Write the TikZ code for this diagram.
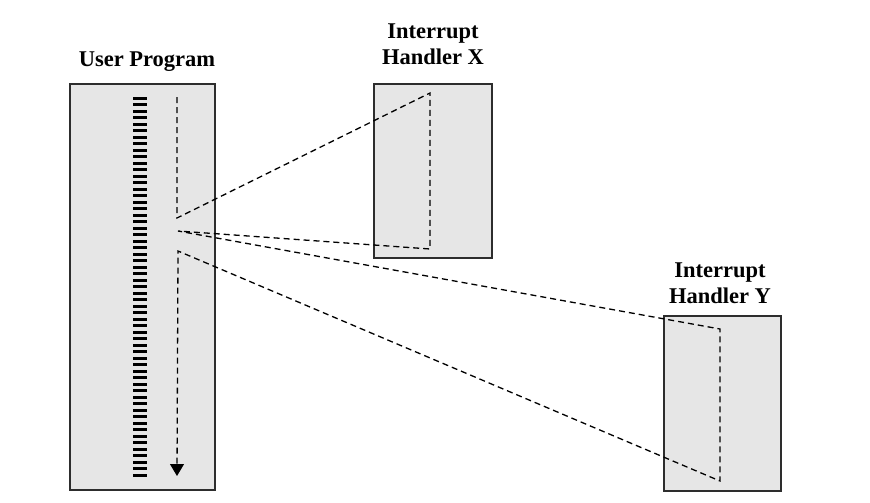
\documentclass[tikz,border=0pt]{standalone}
\usepackage{fontspec}
\setmainfont{Liberation Serif}
\usetikzlibrary{arrows.meta}
\definecolor{boxfill}{RGB}{230,230,230}
\definecolor{boxline}{RGB}{45,45,45}
\begin{document}
\begin{tikzpicture}[x=1pt,y=-1pt,
  box/.style={draw=boxline, line width=1.7pt, fill=boxfill, inner sep=0pt, anchor=north west},
  ttl/.style={font=\bfseries\fontsize{22.5}{26}\selectfont, align=center, inner sep=0pt},
  flow/.style={dashed, dash pattern=on 6pt off 4pt, line width=1.3pt, black},
  stripe/.style={fill=black, draw=none}]
\useasboundingbox (0,0) rectangle (870,503);
% boxes
\node[box, minimum width=145pt, minimum height=406pt] (up) at (69,83) {};
\node[box, minimum width=118pt, minimum height=174pt] (hx) at (373,83) {};
\node[box, minimum width=117pt, minimum height=175pt] (hy) at (663,315) {};
% titles
\node[ttl] (tup) at (147,62) {User Program};
\node[ttl] (thx) at (433,44) {Interrupt\\Handler X};
\node[ttl] (thy) at (720,283) {Interrupt\\Handler Y};
% instruction stripes
\foreach \i in {0,...,58} {
  \fill[stripe] (133,{96.5+\i*6.5}) rectangle (147,{99.8+\i*6.5});
}
% control flow
\coordinate (a1) at (177,97);
\coordinate (a2) at (177,218);
\coordinate (x1) at (430,93);
\coordinate (x2) at (430,249);
\coordinate (a3) at (178,231);
\coordinate (y1) at (720,329);
\coordinate (y2) at (720,481);
\coordinate (a4) at (178,251);
\coordinate (a5) at (177,476);
\draw[flow] (a1) -- (a2) -- (x1) -- (x2) -- (a3) -- (y1) -- (y2) -- (a4) -- (a5);
\draw[-{Triangle[length=12pt,width=14pt]}, line width=1pt] ([yshift=6pt]a5) -- (a5);
\end{tikzpicture}
\end{document}
